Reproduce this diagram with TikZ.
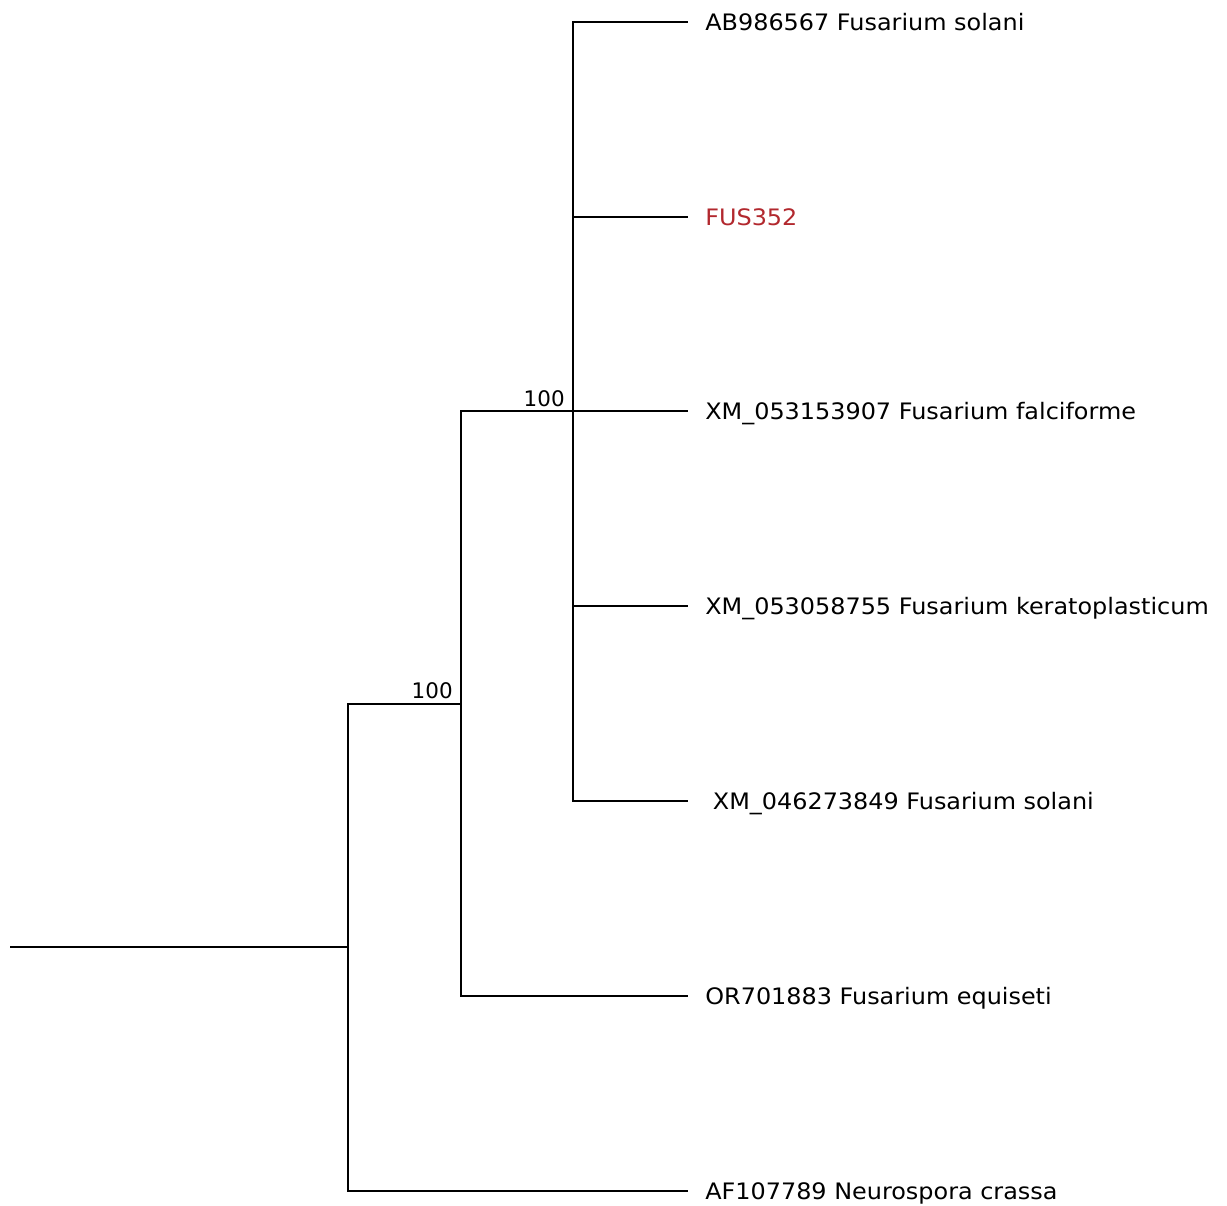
\documentclass[tikz,border=0pt]{standalone}
\usepackage{fontspec}
\usetikzlibrary{calc}
\newfontfamily\taxonfont[FakeStretch=1.055]{DejaVu Sans}
\newfontfamily\bootfont{DejaVu Sans}
\definecolor{fusred}{RGB}{178,40,46}

\begin{document}
\begin{tikzpicture}[x=0.02cm,y=-0.02cm,
  branch/.style={line width=1.15pt,line join=miter},
  taxon/.style={anchor=west,inner xsep=0.34cm,inner ysep=0pt,text height=0.33cm,text depth=0pt,
    font=\taxonfont\fontsize{12.9}{15}\selectfont},
  support/.style={anchor=base east,inner sep=0pt,font=\bootfont\fontsize{12.2}{14}\selectfont}]
  \useasboundingbox (0,0) rectangle (1227,1205);
  % internal nodes
  \coordinate (root) at (10,947);
  \coordinate (nA) at (348,947);
  \coordinate (nB) at (461,704);
  \coordinate (nC) at (573,411);
  % leaves
  \node[taxon] (t1) at (688,22) {AB986567 Fusarium solani};
  \node[taxon,text=fusred] (t2) at (688,217) {FUS352};
  \node[taxon] (t3) at (688,411) {XM\_053153907 Fusarium falciforme};
  \node[taxon] (t4) at (688,606) {XM\_053058755 Fusarium keratoplasticum};
  \node[taxon] (t5) at (688,801) {\ XM\_046273849 Fusarium solani};
  \node[taxon] (t6) at (688,996) {OR701883 Fusarium equiseti};
  \node[taxon] (t7) at (688,1191) {AF107789 Neurospora crassa};
  % branches
  \draw[branch] (root) -- (nA);
  \draw[branch] (nA) |- (nB);
  \draw[branch] (nA) |- (t7.west);
  \draw[branch] (nB) |- (nC);
  \draw[branch] (nB) |- (t6.west);
  \foreach \t in {t1,t2,t3,t4,t5}
    \draw[branch] (nC) |- (\t.west);
  % bootstrap values
  \node[support] (bB) at ($(nB)+(-8,-6)$) {100};
  \node[support] (bC) at ($(nC)+(-8,-5)$) {100};
\end{tikzpicture}
\end{document}
